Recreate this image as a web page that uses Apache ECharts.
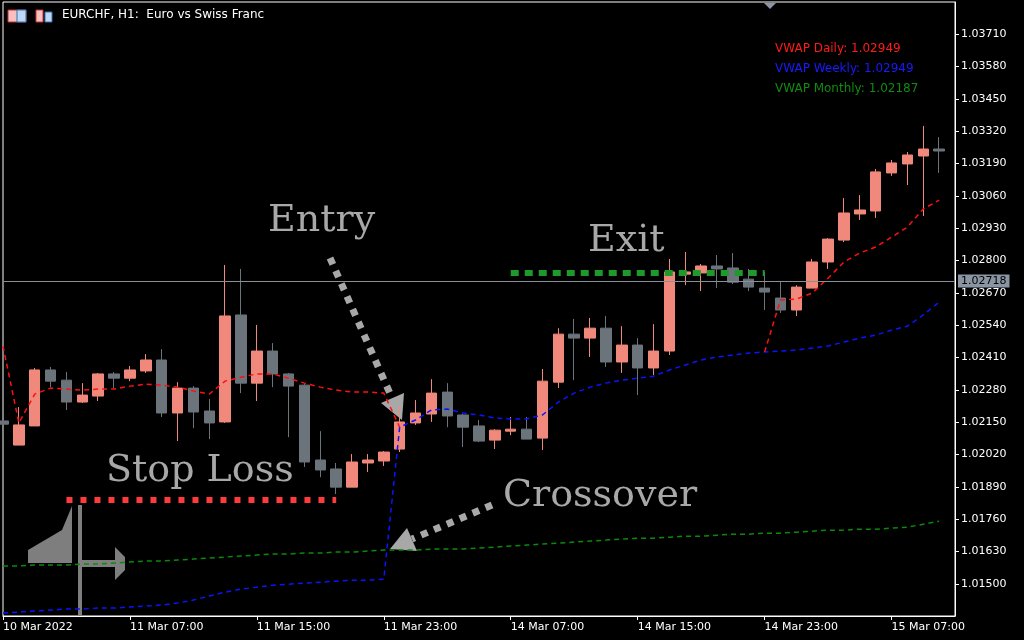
<!DOCTYPE html>
<html>
<head>
<meta charset="utf-8">
<script src="https://cdn.jsdelivr.net/npm/echarts@6/dist/echarts.min.js"></script>
<style>
  html, body { margin: 0; padding: 0; background: #000; }
  #chart { width: 1024px; height: 640px; }
</style>
</head>
<body>
<div id="chart"></div>
<script>
// EURCHF H1, 10 Mar 23:00 .. 15 Mar 10:00
const days = [['10 Mar', 23, 23], ['11 Mar', 0, 23], ['14 Mar', 0, 23], ['15 Mar', 0, 10]];

const opens = [1.02155,1.02058,1.02135,1.02360,1.02319,1.02231,1.02255,1.02344,1.02327,1.02356,1.02400,1.02187,1.02287,1.02195,1.02151,1.02581,1.02307,1.02436,1.02344,1.02299,1.01998,1.01962,1.01889,1.01986,1.01994,1.02042,1.02147,1.02183,1.02271,1.02179,1.02135,1.02078,1.02114,1.02122,1.02086,1.02311,1.02504,1.02488,1.02528,1.02392,1.02460,1.02368,1.02436,1.02745,1.02750,1.02778,1.02770,1.02725,1.02689,1.02649,1.02601,1.02689,1.02794,1.02882,1.02987,1.02999,1.03152,1.03188,1.03220,1.03248];
const closes = [1.02142,1.02139,1.02360,1.02315,1.02231,1.02259,1.02344,1.02327,1.02360,1.02400,1.02187,1.02287,1.02191,1.02147,1.02577,1.02307,1.02436,1.02344,1.02295,1.01990,1.01958,1.01889,1.01990,1.01998,1.02030,1.02151,1.02187,1.02267,1.02175,1.02130,1.02074,1.02118,1.02122,1.02082,1.02315,1.02504,1.02488,1.02528,1.02392,1.02460,1.02368,1.02436,1.02754,1.02754,1.02778,1.02766,1.02713,1.02693,1.02673,1.02601,1.02693,1.02794,1.02886,1.02991,1.03003,1.03156,1.03192,1.03224,1.03248,1.03240];
const lows = [1.02139,1.02058,1.02135,1.02291,1.02199,1.02227,1.02235,1.02287,1.02315,1.02348,1.02171,1.02074,1.02126,1.02082,1.02147,1.02267,1.02235,1.02291,1.02090,1.01970,1.01929,1.01861,1.01889,1.01950,1.01974,1.02030,1.02139,1.02151,1.02130,1.02050,1.02070,1.02042,1.02098,1.02082,1.02038,1.02287,1.02319,1.02412,1.02372,1.02348,1.02259,1.02339,1.02420,1.02701,1.02677,1.02689,1.02705,1.02677,1.02601,1.02589,1.02577,1.02689,1.02766,1.02874,1.02963,1.02971,1.03140,1.03103,1.02979,1.03152];
const highs = [1.02159,1.02211,1.02368,1.02372,1.02352,1.02307,1.02348,1.02352,1.02376,1.02424,1.02444,1.02311,1.02295,1.02243,1.02782,1.02766,1.02541,1.02468,1.02348,1.02303,1.02114,1.01986,1.02022,1.02022,1.02034,1.02215,1.02239,1.02323,1.02307,1.02183,1.02159,1.02122,1.02171,1.02171,1.02364,1.02528,1.02565,1.02569,1.02577,1.02536,1.02488,1.02544,1.02806,1.02834,1.02786,1.02822,1.02830,1.02766,1.02754,1.02717,1.02701,1.02806,1.02890,1.03051,1.03063,1.03168,1.03204,1.03236,1.03341,1.03296];

const vwapDaily = [1.02456,1.02147,1.02263,1.02287,1.02283,1.02279,1.02283,1.02283,1.02295,1.02303,1.02299,1.02291,1.02275,1.02263,1.02315,1.02331,1.02344,1.02344,1.02327,1.02307,1.02291,1.02279,1.02271,1.02271,1.02267,
  1.02130,null,null,null,null,null,null,null,null,null,null,null,null,null,null,null,null,null,null,null,null,null,null,1.02432,
  1.02641,1.02645,1.02669,1.02729,1.02794,1.02830,1.02854,1.02894,1.02934,1.03007,1.03043];
const vwapWeekly = [1.01383,1.01387,1.01391,1.01395,1.01399,1.01399,1.01403,1.01403,1.01407,1.01411,1.01415,1.01423,1.01435,1.01451,1.01467,1.01479,1.01487,1.01495,1.01499,1.01503,1.01507,1.01511,1.01515,1.01515,1.01519,
  1.02130,1.02159,1.02199,1.02203,1.02187,1.02179,1.02167,1.02163,1.02163,1.02179,1.02231,1.02267,1.02291,1.02307,1.02319,1.02327,1.02335,1.02360,1.02380,1.02400,1.02412,1.02420,1.02428,1.02432,1.02436,1.02440,1.02448,1.02456,1.02472,1.02488,1.02500,1.02520,1.02536,1.02581,1.02633];
const vwapMonthly = [1.01572,1.01572,1.01576,1.01576,1.01576,1.01580,1.01580,1.01584,1.01588,1.01592,1.01592,1.01596,1.01600,1.01604,1.01608,1.01612,1.01616,1.01620,1.01620,1.01624,1.01624,1.01628,1.01628,1.01632,1.01636,1.01636,1.01636,1.01640,1.01640,1.01640,1.01644,1.01648,1.01652,1.01656,1.01660,1.01664,1.01668,1.01672,1.01676,1.01680,1.01684,1.01684,1.01688,1.01692,1.01692,1.01696,1.01700,1.01700,1.01704,1.01704,1.01708,1.01712,1.01716,1.01716,1.01720,1.01720,1.01724,1.01728,1.01740,1.01752];

const yTicks = [1.03710,1.03580,1.03450,1.03320,1.03190,1.03060,1.02930,1.02800,1.02670,1.02540,1.02410,1.02280,1.02150,1.02020,1.01890,1.01760,1.01630,1.01500];
const currentPrice = 1.02718;
const stopLoss = 1.01837, exitLevel = 1.02750;

const categories = [];
days.forEach(([d, h0, h1]) => {
    for (let h = h0; h <= h1; h++) categories.push(d + ' ' + String(h).padStart(2, '0') + ':00');
});
categories.push('');  // right margin slot
categories[0] = '10 Mar 2022';

const candles = opens.map((o, i) => [o, closes[i], lows[i], highs[i]]);

const chart = echarts.init(document.getElementById('chart'));
const annoFont = '38px "DejaVu Serif"';
const annoColor = '#a8a8a8';

chart.setOption({
    backgroundColor: '#000',
    animation: false,
    grid: { left: 2, right: 69, top: 2, bottom: 24, show: true, borderColor: '#fff', borderWidth: 1 },
    xAxis: {
        type: 'category',
        data: categories,
        boundaryGap: false,
        axisLine: { lineStyle: { color: '#fff' } },
        axisTick: { interval: 7, length: 4, lineStyle: { color: '#fff' } },
        axisLabel: { interval: 7, color: '#fff', fontSize: 11, fontFamily: 'DejaVu Sans', align: 'left', margin: 6 },
        splitLine: { show: false }
    },
    yAxis: {
        type: 'value',
        position: 'right',
        min: 1.01371,
        max: 1.03839,
        axisLine: { show: true, lineStyle: { color: '#fff' } },
        axisTick: { show: true, length: 4, customValues: yTicks, lineStyle: { color: '#fff' } },
        axisLabel: { color: '#fff', fontSize: 11, fontFamily: 'DejaVu Sans', margin: 6, customValues: yTicks,
            formatter: v => v.toFixed(5) },
        splitLine: { show: false }
    },
    series: [
        {
            type: 'candlestick',
            data: candles,
            barWidth: 11,
            itemStyle: { color: '#f0887b', color0: '#6b737b', borderColor: '#f0887b', borderColor0: '#6b737b', borderWidth: 1 }
        },
        {
            type: 'line', data: vwapMonthly, showSymbol: false, lineStyle: { color: '#0a8a0a', width: 1.5, type: [5, 4] },
            markLine: {
                silent: true,
                symbol: 'none',
                data: [
                    [{ coord: [0, currentPrice], lineStyle: { color: '#8a8f96', width: 1, type: 'solid' },
                       label: { show: true, position: 'end', distance: 3, formatter: '1.02718', color: '#000',
                                backgroundColor: '#8a95a3', padding: [1, 3], fontSize: 11, fontFamily: 'DejaVu Sans' } },
                     { coord: [60, currentPrice] }],
                    [{ coord: [4, stopLoss], lineStyle: { color: '#ff3b3b', width: 6, type: [6, 8] }, label: { show: false } },
                     { coord: [21, stopLoss] }],
                    [{ coord: [32, exitLevel], lineStyle: { color: '#1f9a2a', width: 6, type: [8, 6] }, label: { show: false } },
                     { coord: [48, exitLevel] }]
                ]
            }
        },
        { type: 'line', data: vwapWeekly, showSymbol: false, lineStyle: { color: '#0a14ff', width: 1.5, type: [5, 4] } },
        { type: 'line', data: vwapDaily, showSymbol: false, connectNulls: false, lineStyle: { color: '#ff1010', width: 1.5, type: [5, 4] } }
    ],
    graphic: [
        // header
        { type: 'rect', shape: { x: 8, y: 10, width: 18, height: 12 }, style: { fill: '#f6c0c0', stroke: '#d03030' } },
        { type: 'rect', shape: { x: 17, y: 10, width: 9, height: 12 }, style: { fill: '#bfd8f0', stroke: '#3070c0' } },
        { type: 'rect', shape: { x: 36, y: 10, width: 7, height: 12 }, style: { fill: '#f6c0c0', stroke: '#d03030' } },
        { type: 'rect', shape: { x: 45, y: 12, width: 7, height: 10 }, style: { fill: '#bfd8f0', stroke: '#3070c0' } },
        { type: 'text', left: 62, top: 9, style: { text: 'EURCHF, H1:  Euro vs Swiss Franc', fill: '#fff', font: '12px "DejaVu Sans"' } },
        { type: 'polygon', shape: { points: [[764, 3], [776, 3], [770, 9]] }, style: { fill: '#8a95a3' } },
        // VWAP legend
        { type: 'text', left: 775, top: 43, style: { text: 'VWAP Daily: 1.02949', fill: '#ff1a1a', font: '12px "DejaVu Sans"' } },
        { type: 'text', left: 775, top: 63, style: { text: 'VWAP Weekly: 1.02949', fill: '#1a1aff', font: '12px "DejaVu Sans"' } },
        { type: 'text', left: 775, top: 83, style: { text: 'VWAP Monthly: 1.02187', fill: '#108a10', font: '12px "DejaVu Sans"' } },
        // annotations
        { type: 'text', left: 268, top: 202, style: { text: 'Entry', fill: annoColor, font: annoFont } },
        { type: 'text', left: 588, top: 222, style: { text: 'Exit', fill: annoColor, font: annoFont } },
        { type: 'text', left: 106, top: 452, style: { text: 'Stop Loss', fill: annoColor, font: annoFont } },
        { type: 'text', left: 503, top: 477, style: { text: 'Crossover', fill: annoColor, font: annoFont } },
        { type: 'line', shape: { x1: 330, y1: 258, x2: 392, y2: 398 }, style: { stroke: annoColor, lineWidth: 7, lineDash: [7, 7] } },
        { type: 'polygon', shape: { points: [[402, 420], [381, 403], [404, 393]] }, style: { fill: annoColor } },
        { type: 'line', shape: { x1: 492, y1: 505, x2: 412, y2: 539 }, style: { stroke: annoColor, lineWidth: 7, lineDash: [7, 7] } },
        { type: 'polygon', shape: { points: [[390, 549], [407, 528], [417, 551]] }, style: { fill: annoColor } },
        // logo
        { type: 'polygon', shape: { points: [[78, 505], [82, 505], [82, 615], [78, 615]] }, style: { fill: '#8c8c8c', opacity: 0.9 } },
        { type: 'polygon', shape: { points: [[72, 506], [72, 563], [28, 563], [28, 550], [62, 530]] }, style: { fill: '#8c8c8c', opacity: 0.9 } },
        { type: 'polygon', shape: { points: [[82, 560], [115, 560], [115, 547], [125, 557], [125, 570], [115, 580], [115, 567], [82, 567]] }, style: { fill: '#8c8c8c', opacity: 0.9 } }
    ]
});
</script>
</body>
</html>
